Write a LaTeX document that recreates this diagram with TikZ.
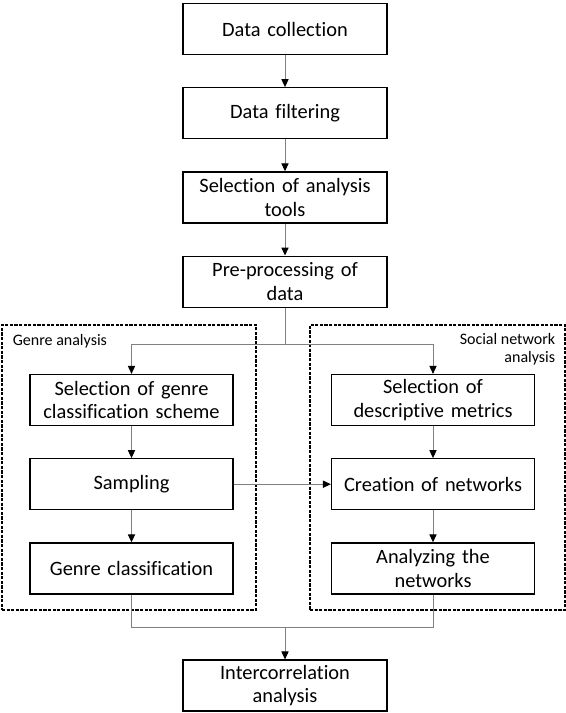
\documentclass[tikz,border=0pt]{standalone}
\usepackage{fontspec}
\setmainfont[Ligatures=NoCommon]{Carlito}
\usepackage{tikz}
\tikzset{
stepbox/.style={draw, line width=0.6pt, minimum width=102pt, minimum height=25.5pt, text width=98pt, align=center, inner sep=1pt, font=\fontsize{10.2}{11.6}\selectfont},
frame/.style={draw, dashed, dash pattern=on 1.6pt off 0.7pt, line width=0.55pt},
framelbl/.style={inner sep=0pt, font=\fontsize{8}{8.6}\selectfont},
link/.style={draw=gray, line width=0.5pt},
flow/.style={link, -{Triangle[length=4pt, width=3.6pt, black]}}
}
\usetikzlibrary{calc, positioning, arrows.meta}

\begin{document}
\begin{tikzpicture}[node distance=16pt]
			\useasboundingbox (0,0) rectangle (283pt,-356.5pt);
			\node[stepbox] (collect) at (142.5pt,-14.5pt) {Data collection};
			\node[stepbox, below = of collect] (filter) {Data filtering};
			\node[stepbox, below = of filter] (tools) {Selection of analysis\\tools};
			\node[stepbox, below = of tools] (prep) {Pre-processing of\\data};
			% ----
			\node[frame, minimum width=127pt, minimum height=142.5pt] (genre) at (64.5pt,-233.75pt) {};
			\node[frame, minimum width=127.5pt, minimum height=142.5pt] (social) at (218.75pt,-233.75pt) {};
			\node[framelbl, anchor=north west] (genrelbl) at ($(genre.north west)+(5.5pt,-5pt)$) {Genre analysis};
			\node[framelbl, anchor=north east, align=right] (sociallbl) at ($(social.north east)+(-5pt,-4.5pt)$) {Social network\\analysis};
			% ----
			\node[stepbox, minimum width=101.5pt] (scheme) at (65.75pt,-200pt) {Selection of genre\\classification scheme};
			\node[stepbox, minimum width=101.5pt, below = of scheme] (sampling) {Sampling};
			\node[stepbox, minimum width=101.5pt, below = of sampling] (genrecl) {Genre classification};
			\node[stepbox, minimum width=101.5pt] (metrics) at (216.5pt,-200pt) {Selection of\\descriptive metrics};
			\node[stepbox, minimum width=101.5pt, below = of metrics] (networks) {Creation of networks};
			\node[stepbox, minimum width=101.5pt, below = of networks] (analyze) {Analyzing the\\networks};
			\node[stepbox] (intercorr) at (142.5pt,-342.75pt) {Intercorrelation\\analysis};
			\coordinate (split) at ($(prep.south)+(0,-18.5pt)$);
			\coordinate (join) at ($(intercorr.north)+(0,16pt)$);
			% ----
			\draw[flow] (collect) to (filter);
			\draw[flow] (filter) to (tools);
			\draw[flow] (tools) to (prep);

			\draw[link] (prep.south) to (split);
			\draw[flow] (split) -| (scheme.north);
			\draw[flow] (split) -| (metrics.north);

			\draw[flow] (scheme) to (sampling);
			\draw[flow] (sampling) to (genrecl);
			\draw[flow] (metrics) to (networks);
			\draw[flow] (networks) to (analyze);
			\draw[flow] (sampling) to (networks);

			\draw[link] (genrecl.south) |- (join) -| (analyze.south);
			\draw[flow] (join) to (intercorr);
		\end{tikzpicture}
\end{document}
